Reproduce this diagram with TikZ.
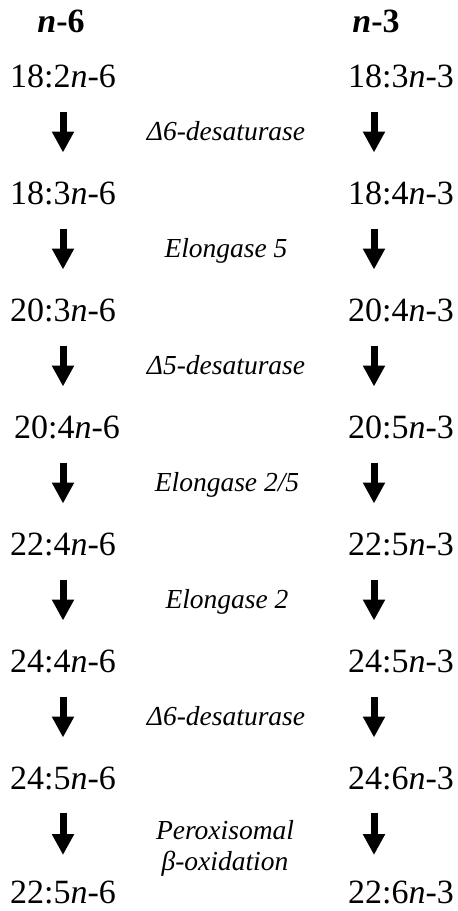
\documentclass[tikz,border=0pt]{standalone}
\usepackage{fontspec}
\setmainfont{Liberation Serif}
\usetikzlibrary{arrows.meta}

\begin{document}
\begin{tikzpicture}[x=1pt,y=-1pt,
  acid/.style={anchor=base,inner sep=0pt,font=\fontsize{34}{38}\selectfont},
  head/.style={anchor=base,inner sep=0pt,font=\fontsize{34}{38}\selectfont\bfseries},
  enzyme/.style={anchor=base,inner sep=0pt,align=center,font=\fontsize{27.5}{31}\selectfont\itshape},
  flow/.style={line width=7pt,-{Triangle[width=21pt,length=21pt]}}]
  \useasboundingbox[fill=white] (0,0) rectangle (458,911);

  % column positions of the arrows
  \coordinate (L) at (63,0);
  \coordinate (R) at (374,0);

  % column headings
  \node[head] (h6) at (61,32) {\textit{n}-6};
  \node[head] (h3) at (376,32) {\textit{n}-3};

  % n-6 series
  \node[acid] (a1) at (63,87.5)  {18:2\textit{n}-6};
  \node[acid] (a2) at (63,204.5) {18:3\textit{n}-6};
  \node[acid] (a3) at (63,321.5) {20:3\textit{n}-6};
  \node[acid] (a4) at (67,438.5) {20:4\textit{n}-6};
  \node[acid] (a5) at (63,555.5) {22:4\textit{n}-6};
  \node[acid] (a6) at (63,672.5) {24:4\textit{n}-6};
  \node[acid] (a7) at (63,789.5) {24:5\textit{n}-6};
  \node[acid] (a8) at (63,903)   {22:5\textit{n}-6};

  % n-3 series
  \node[acid] (b1) at (401,87.5)  {18:3\textit{n}-3};
  \node[acid] (b2) at (401,204.5) {18:4\textit{n}-3};
  \node[acid] (b3) at (401,321.5) {20:4\textit{n}-3};
  \node[acid] (b4) at (401,438.5) {20:5\textit{n}-3};
  \node[acid] (b5) at (401,555.5) {22:5\textit{n}-3};
  \node[acid] (b6) at (401,672.5) {24:5\textit{n}-3};
  \node[acid] (b7) at (401,789.5) {24:6\textit{n}-3};
  \node[acid] (b8) at (401,903)   {22:6\textit{n}-3};

  % enzymes (a two-line node sits on the baseline of its last line)
  \node[enzyme] (e1) at (226,140.5) {Δ6-desaturase};
  \node[enzyme] (e2) at (226,257.5) {Elongase 5};
  \node[enzyme] (e3) at (226,374.5) {Δ5-desaturase};
  \node[enzyme] (e4) at (227,491.5) {Elongase 2/5};
  \node[enzyme] (e5) at (227,608.5) {Elongase 2};
  \node[enzyme] (e6) at (226,725.5) {Δ6-desaturase};
  \node[enzyme] (e7) at (225,870)   {Peroxisomal\\β-oxidation};

  % conversion arrows
  \foreach \u/\v in {1/2,2/3,3/4,4/5,5/6,6/7} {
    \draw[flow] ([yshift=-24pt]a\u.base -| L) -- ([yshift=52pt]a\v.base -| L);
    \draw[flow] ([yshift=-24pt]b\u.base -| R) -- ([yshift=52pt]b\v.base -| R);
  }
  \draw[flow] ([yshift=-23pt]a7.base -| L) -- ([yshift=48pt]a8.base -| L);
  \draw[flow] ([yshift=-23pt]b7.base -| R) -- ([yshift=48pt]b8.base -| R);
\end{tikzpicture}
\end{document}
